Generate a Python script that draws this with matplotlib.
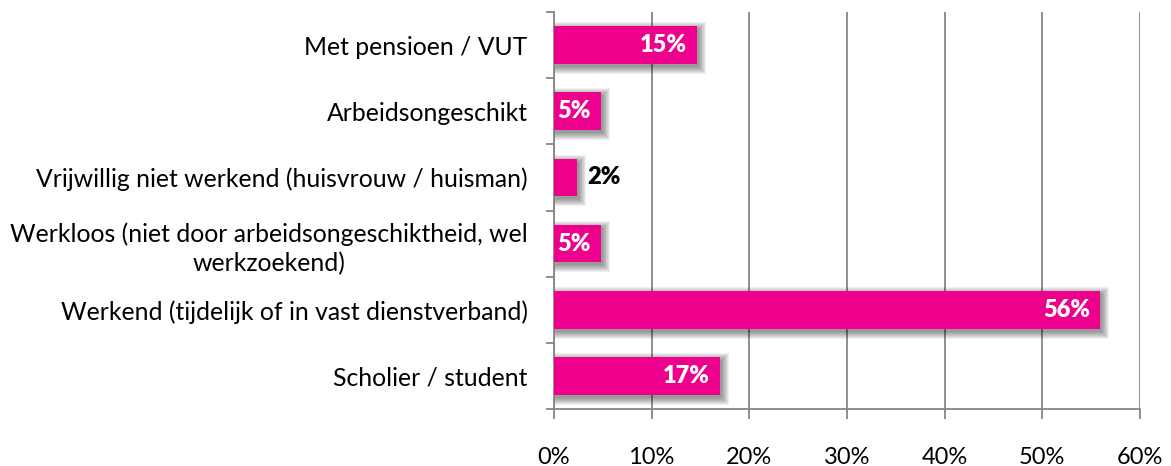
import matplotlib
matplotlib.use("Agg")
import matplotlib.pyplot as plt
import numpy as np

categories = [
    "Met pensioen / VUT",
    "Arbeidsongeschikt",
    "Vrijwillig niet werkend (huisvrouw / huisman)",
    "Werkloos (niet door arbeidsongeschiktheid, wel\nwerkzoekend)",
    "Werkend (tijdelijk of in vast dienstverband)",
    "Scholier / student",
]
values = [14.6, 4.8, 2.4, 4.8, 55.9, 17.0]
value_labels = ["15%", "5%", "2%", "5%", "56%", "17%"]
xticks = [0, 10, 20, 30, 40, 50, 60]
xtick_labels = ["0%", "10%", "20%", "30%", "40%", "50%", "60%"]

BAR_COLOR = "#EC008C"
GRID_COLOR = "#868686"
FONT = "Lato"

W, H = 1171, 466
fig = plt.figure(figsize=(W / 100, H / 100), dpi=100)
ax = fig.add_axes([554 / W, 1 - 409 / H, (1140 - 554) / W, (409 - 12) / H])

n = len(categories)
y = np.arange(n)
ax.set_xlim(0, 60)
ax.set_ylim(n - 0.5, -0.5)

# pixel -> data scales
px_x = 60 / (1140 - 554)
px_y = n / (409 - 12)
bh = 0.57

# soft shadow
vals = np.array(values)
for e in range(0, 8):
    ax.barh(y + 3 * px_y, vals + 2 * e * px_x, left=(2 - e) * px_x,
            height=bh + 2 * e * px_y, color="#000000", alpha=0.06,
            linewidth=0, zorder=2)

ax.barh(y, vals, height=bh, color=BAR_COLOR, linewidth=0, zorder=3)

for yi, v, lab in zip(y, values, value_labels):
    if v < 3:
        ax.text(v + 10 * px_x, yi, lab, ha="left", va="center", color="black",
                fontsize=17, fontweight="heavy", family=FONT, zorder=4)
    else:
        ax.text(v - 10 * px_x, yi, lab, ha="right", va="center", color="white",
                fontsize=17, fontweight="heavy", family=FONT, zorder=4)

# grid
ax.set_xticks(xticks)
ax.set_xticklabels(xtick_labels, family=FONT, fontsize=17)
ax.xaxis.grid(True, color=GRID_COLOR, linewidth=1.3, zorder=1)
ax.set_axisbelow(True)

ax.set_yticks(y)
ax.set_yticklabels(categories, family=FONT, fontsize=17.8, multialignment="center",
                   linespacing=1.35)
ax.set_yticks(np.arange(n + 1) - 0.5, minor=True)
ax.tick_params(axis="y", which="major", length=0, pad=19)
ax.tick_params(axis="y", which="minor", length=6, width=1.3, color=GRID_COLOR)
ax.tick_params(axis="x", which="major", length=7, width=1.3, color=GRID_COLOR, pad=20)

for s in ["top", "right"]:
    ax.spines[s].set_visible(False)
for s in ["left", "bottom"]:
    ax.spines[s].set_color(GRID_COLOR)
    ax.spines[s].set_linewidth(1.3)

fig.savefig("out.png", dpi=100, facecolor="white")
